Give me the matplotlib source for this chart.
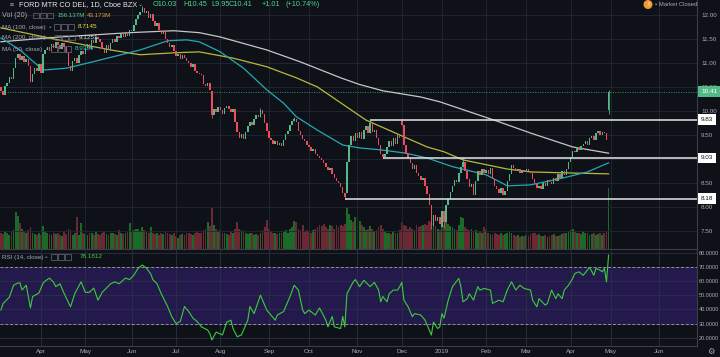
"""
FORD MTR CO DEL 日线图（TradingView 深色风格）
价格 + 成交量 + MA50/100/200 + 水平支撑阻力线，下方 RSI(14)
"""
import matplotlib
matplotlib.use('Agg')
import matplotlib.pyplot as plt
import matplotlib.transforms as mtransforms
from matplotlib.patches import Rectangle, Circle

# ---------------- 数据 ----------------
# x 轴用交易日序号，0 = 2018-03-05
month_ticks = [19, 40, 62, 83, 104, 127, 146, 169, 190, 209, 230, 249, 270, 289, 312]
month_labels = ['Apr', 'May', 'Jun', 'Jul', 'Aug', 'Sep', 'Oct', 'Nov', 'Dec',
                '2019', 'Feb', 'Mar', 'Apr', 'May', 'Jun']

closes = [
    # 2018 Mar
    10.42, 10.35, 10.52, 10.60, 10.72, 10.68, 10.90, 11.12, 11.20, 11.08,
    11.15, 11.02, 11.10, 10.95, 10.62, 10.78, 10.90, 10.85, 10.98,
    # Apr
    10.80, 11.20, 11.28, 11.35, 11.25, 11.40, 11.32, 11.44, 11.38, 11.30,
    11.42, 11.35, 11.22, 10.95, 10.85, 11.05, 11.12, 11.00, 11.18, 11.25, 11.20,
    # May
    11.32, 11.40, 11.30, 11.48, 11.42, 11.55, 11.50, 11.45, 11.30, 11.22,
    11.38, 11.28, 11.42, 11.50, 11.45, 11.58, 11.52, 11.62, 11.55, 11.66,
    11.58, 11.70,
    # Jun
    11.68, 11.80, 11.92, 12.00, 12.08, 12.15, 12.05, 12.10, 11.95, 12.02,
    11.88, 11.78, 11.85, 11.70, 11.62, 11.68, 11.50, 11.42, 11.35, 11.38, 11.25,
    # Jul
    11.15, 11.20, 11.10, 11.18, 11.12, 11.05, 11.00, 10.92, 10.98, 10.85,
    10.80, 10.78, 10.75, 10.58, 10.52, 10.60, 10.45, 9.92, 10.05, 9.98, 10.10,
    # Aug
    10.02, 9.95, 10.08, 10.12, 10.05, 9.98, 10.04, 9.78, 9.58, 9.45,
    9.52, 9.42, 9.58, 9.70, 9.78, 9.72, 9.85, 9.92, 9.88, 10.02,
    9.95, 9.75, 9.60,
    # Sep
    9.45, 9.40, 9.32, 9.38, 9.30, 9.35, 9.28, 9.40, 9.52, 9.60,
    9.72, 9.80, 9.85, 9.78, 9.60, 9.50, 9.42, 9.38, 9.30,
    # Oct
    9.25, 9.18, 9.22, 9.12, 9.08, 9.02, 8.98, 8.92, 8.85, 8.78,
    8.82, 8.70, 8.62, 8.55, 8.50, 8.42, 8.30, 8.22, 8.95, 9.30,
    9.48, 9.38, 9.55,
    # Nov
    9.45, 9.58, 9.42, 9.62, 9.70, 9.55, 9.75, 9.58, 9.62, 9.45,
    9.30, 9.12, 9.05, 9.12, 9.25, 9.38, 9.28, 9.45, 9.32, 9.50, 9.45,
    # Dec
    9.72, 9.30, 9.12, 9.02, 8.92, 8.80, 8.88, 8.72, 8.65, 8.58,
    8.62, 8.45, 8.28, 8.05, 7.62, 7.85, 7.72, 7.80, 7.65,
    # 2019 Jan
    7.92, 7.70, 8.05, 8.18, 8.32, 8.45, 8.58, 8.52, 8.72, 8.85,
    8.95, 8.75, 8.60, 8.42, 8.48, 8.25, 8.55, 8.75, 8.68, 8.80, 8.72,
    # Feb
    8.78, 8.70, 8.82, 8.60, 8.45, 8.38, 8.30, 8.40, 8.25, 8.35,
    8.55, 8.70, 8.88, 8.82, 8.75, 8.80, 8.72, 8.78, 8.74,
    # Mar
    8.80, 8.76, 8.72, 8.60, 8.48, 8.40, 8.45, 8.38, 8.50, 8.45,
    8.58, 8.52, 8.48, 8.62, 8.55, 8.70, 8.62, 8.75, 8.68, 8.80, 8.95,
    # Apr
    9.05, 9.18, 9.15, 9.25, 9.20, 9.28, 9.32, 9.38, 9.30, 9.45,
    9.48, 9.40, 9.55, 9.60, 9.50, 9.58, 9.55, 9.40, 10.41,
]

# 跳空开盘（其余开盘价 = 前一日收盘）
gap_opens = {0: 10.50, 100: 10.42, 164: 8.30, 190: 9.80, 209: 7.60, 288: 10.03}
# 明显的影线
highs = {67: 12.20, 123: 10.07, 139: 9.88, 175: 9.83, 190: 9.83, 219: 9.05, 288: 10.45}
lows = {100: 9.86, 163: 8.18, 181: 9.03, 204: 7.55, 210: 7.58, 288: 9.95}

volumes = [
    40, 38, 45, 42, 36, 44, 48, 95, 83, 67, 52, 45, 40, 48, 55, 42, 38, 35, 40,
    36, 58, 45, 40, 38, 35, 42, 38, 40, 36, 34, 45, 38, 52, 48, 36, 40, 82, 35, 67, 42,
    38, 35, 42, 40, 36, 44, 38, 35, 40, 45, 38, 36, 42, 40, 37, 35, 48, 42, 38, 40, 44, 67,
    45, 48, 52, 50, 46, 55, 48, 44, 42, 55, 40, 38, 42, 36, 40, 38, 45, 42, 38, 35, 40,
    32, 28, 35, 38, 36, 40, 42, 38, 35, 40, 45, 42, 40, 48, 52, 70, 58, 105, 62, 50, 45,
    48, 42, 40, 38, 36, 45, 42, 50, 68, 52, 48, 45, 40, 38, 42, 40, 36, 38, 35, 42, 48, 55, 75,
    52, 45, 42, 40, 38, 42, 40, 45, 48, 42, 50, 55, 72, 68, 50, 48, 60, 45, 48,
    45, 42, 48, 50, 55, 62, 58, 65, 55, 52, 60, 58, 50, 62, 55, 60, 58, 65, 108, 88, 75, 70, 82,
    80, 72, 60, 55, 48, 52, 58, 50, 45, 48, 55, 60, 52, 45, 42, 40, 38, 45, 42, 40, 48,
    70, 62, 58, 52, 55, 50, 48, 60, 55, 58, 62, 65, 60, 72, 68, 75, 58, 52, 48,
    55, 60, 72, 65, 58, 55, 52, 48, 60, 82, 78, 55, 50, 48, 52, 45, 48, 42, 45, 40, 55,
    48, 40, 38, 35, 42, 38, 36, 40, 35, 38, 42, 45, 40, 36, 32, 35, 30, 34, 32,
    35, 32, 38, 40, 42, 36, 38, 34, 32, 35, 30, 33, 36, 38, 34, 32, 35, 38, 40, 42, 45,
    48, 52, 45, 42, 40, 38, 45, 42, 40, 36, 38, 42, 35, 38, 40, 36, 42, 45, 156.137,
]

ma50_idx = [0, 9, 20, 31, 47, 66, 79, 88, 94, 104, 115, 126, 134, 140, 150,
            162, 170, 180, 192, 202, 214, 230, 240, 251, 266, 278, 288]
ma50_val = [11.53, 11.28, 10.86, 10.90, 11.07, 11.28, 11.47, 11.49, 11.45, 11.24,
            10.90, 10.45, 10.17, 9.89, 9.61, 9.30, 9.24, 9.20, 9.13, 9.03,
            8.85, 8.68, 8.45, 8.47, 8.61, 8.74, 8.93]

ma100_idx = [0, 26, 52, 66, 82, 94, 110, 126, 140, 150, 161, 173, 189, 202,
             210, 219, 240, 251, 268, 288]
ma100_val = [11.74, 11.50, 11.28, 11.18, 11.22, 11.24, 11.11, 10.93, 10.70, 10.51,
             10.18, 9.82, 9.51, 9.26, 9.16, 8.99, 8.80, 8.74, 8.72, 8.70]

ma200_idx = [0, 28, 61, 82, 94, 104, 126, 142, 161, 170, 181, 199, 208, 235,
             251, 271, 288]
ma200_val = [11.45, 11.55, 11.64, 11.68, 11.64, 11.55, 11.28, 11.03, 10.70, 10.56,
             10.43, 10.30, 10.20, 9.80, 9.55, 9.26, 9.13]

rsi_idx = [0, 1, 4, 6, 8, 9, 10, 12, 14, 15, 18, 20, 21, 23, 25, 26, 28, 30, 33, 35,
           38, 40, 42, 44, 46, 48, 52, 54, 56, 59, 61, 63, 65, 67, 69, 71, 72, 74, 76, 79,
           81, 83, 85, 87, 89, 91, 93, 95, 98, 99, 100, 102, 105, 107, 109, 110, 112, 114,
           117, 118, 120, 123, 124, 126, 128, 130, 131, 134, 137, 139, 141, 143, 144, 146,
           149, 151, 154, 155, 157, 158, 161, 162, 163, 164, 167, 168, 170, 172, 175, 177,
           179, 180, 181, 183, 184, 186, 188, 189, 190, 191, 193, 195, 196, 199, 201, 202,
           204, 205, 207, 208, 209, 210, 212, 214, 217, 218, 219, 221, 222, 224, 226, 227,
           229, 232, 233, 236, 238, 240, 242, 244, 246, 248, 251, 252, 254, 255, 258, 259,
           261, 263, 264, 266, 267, 269, 271, 272, 274, 276, 279, 281, 282, 284, 285, 286,
           287, 288]
rsi_val = [39.5, 44.0, 48.6, 57.0, 58.5, 58.7, 53.6, 57.0, 41.0, 49.0, 51.5, 58.5, 60.0,
           62.0, 59.0, 56.0, 58.0, 51.0, 41.8, 51.0, 59.4, 52.0, 52.0, 55.0, 46.5, 52.0,
           58.0, 59.4, 58.0, 62.0, 61.0, 64.0, 68.9, 71.2, 69.0, 65.0, 61.0, 58.0, 51.0,
           42.0, 34.8, 30.0, 31.5, 42.0, 38.5, 33.8, 31.5, 27.7, 25.4, 23.0, 18.4, 24.0,
           22.0, 31.0, 32.4, 26.5, 20.7, 22.0, 32.4, 42.0, 37.0, 50.0, 46.5, 39.5, 36.0,
           32.4, 36.0, 38.5, 49.0, 57.0, 53.5, 39.5, 37.0, 39.5, 36.0, 41.0, 32.4, 27.7,
           35.0, 27.7, 26.5, 35.0, 27.7, 51.0, 59.4, 61.0, 56.0, 60.5, 56.0, 59.0, 53.6,
           45.3, 49.0, 45.3, 51.0, 53.6, 53.6, 56.0, 59.0, 46.5, 41.8, 34.8, 37.0, 36.0,
           32.4, 29.0, 21.9, 31.0, 26.5, 27.7, 37.0, 33.8, 46.5, 56.0, 61.8, 56.0, 45.3,
           47.5, 51.0, 46.5, 56.0, 53.6, 54.7, 53.6, 44.2, 46.5, 45.3, 53.6, 59.4, 53.6,
           57.0, 54.7, 53.6, 46.5, 41.8, 47.5, 43.0, 44.2, 53.6, 47.5, 51.0, 47.5, 53.6,
           57.0, 61.8, 65.3, 66.4, 64.0, 69.6, 64.0, 68.8, 67.6, 66.4, 68.8, 59.4, 78.2]

# 水平线：价格与起点
levels = [9.83, 9.03, 8.18]
level_start = [175, 181, 163]
last_price = 10.41

price_ticks = [7.5, 8.0, 8.5, 9.0, 9.5, 10.0, 10.5, 11.0, 11.5, 12.0]
rsi_ticks = [20, 30, 40, 50, 60, 70, 80]

# ---------------- 样式 ----------------
BG = '#0f1118'
GRID = '#242833'
TXT = '#a9acb5'
UP, DOWN = '#53b987', '#eb4d5c'
VOL_UP, VOL_DOWN = '#1b6a28', '#6a2933'
MA50_C, MA100_C, MA200_C = '#25a8b4', '#b9b83a', '#c6c6c6'
RSI_C, RSI_BG = '#3ccc3c', '#23194d'
VAL_GREEN = '#4fd18b'

W, H = 720, 357


def fx(px):
    return px / W


def fy(py):
    return 1 - py / H


def main():
    plt.rcParams['font.family'] = ['Liberation Sans', 'DejaVu Sans']

    fig = plt.figure(figsize=(7.2, 3.57), dpi=100)
    fig.patch.set_facecolor(BG)

    ax = fig.add_axes([0, fy(249), fx(697), 249 / H])
    ax_r = fig.add_axes([0, fy(346), fx(697), 96 / H], sharex=ax)
    axv = ax.twinx()

    n = len(closes)
    x = list(range(n))
    opens = [gap_opens.get(i, closes[i - 1] if i > 0 else closes[0]) for i in x]
    up = [c >= o for o, c in zip(opens, closes)]

    # 成交量（放在价格层下面）
    axv.set_zorder(0)
    ax.set_zorder(1)
    ax.patch.set_visible(False)
    axv.patch.set_facecolor(BG)
    axv.bar(x, volumes, width=0.85, color=[VOL_UP if u else VOL_DOWN for u in up], lw=0)
    axv.set_ylim(0, 635)
    axv.set_yticks([])
    for s in axv.spines.values():
        s.set_visible(False)

    # K 线
    bottoms = [min(o, c) for o, c in zip(opens, closes)]
    heights = [max(abs(c - o), 0.012) for o, c in zip(opens, closes)]
    cols = [UP if u else DOWN for u in up]
    ax.bar(x, heights, bottom=bottoms, width=0.7, color=cols, lw=0, zorder=4)
    wx, wlo, whi, wc = [], [], [], []
    for i in x:
        if i in highs or i in lows:
            wx.append(i)
            wlo.append(lows.get(i, bottoms[i]))
            whi.append(highs.get(i, bottoms[i] + heights[i]))
            wc.append(cols[i])
    ax.vlines(wx, wlo, whi, colors=wc, lw=0.6, zorder=4)

    # 均线
    ax.plot(ma200_idx, ma200_val, color=MA200_C, lw=0.9, zorder=3)
    ax.plot(ma100_idx, ma100_val, color=MA100_C, lw=0.9, zorder=3)
    ax.plot(ma50_idx, ma50_val, color=MA50_C, lw=0.9, zorder=3)

    xmin, xmax = -0.43, 329.9
    ax.set_xlim(xmin, xmax)
    ax.set_ylim(7.135, 12.32)

    # 当前价虚线 + 水平线
    ax.axhline(last_price, color='#3d8f68', ls=(0, (1, 1.5)), lw=0.7, zorder=2)
    for lv, st in zip(levels, level_start):
        ax.hlines(lv, st, xmax, color='#e6e6e6', lw=1.1, zorder=5)

    ytrans = mtransforms.blended_transform_factory(ax.transAxes, ax.transData)
    for lv in levels:
        ax.text(1 + 4 / 697, lv, f'{lv:.2f}', transform=ytrans, fontsize=4.6, color='#111111',
                va='center', ha='left', clip_on=False, zorder=10,
                bbox=dict(boxstyle='square,pad=0.45', fc='white', ec='none'))
    ax.text(1 + 4 / 697, last_price, f'{last_price:.2f}', transform=ytrans, fontsize=4.6,
            color='white', va='center', ha='left', clip_on=False, zorder=10,
            bbox=dict(boxstyle='square,pad=0.45', fc=UP, ec='none'))

    ax.yaxis.tick_right()
    ax.set_yticks(price_ticks)
    ax.set_yticklabels([f'{p:.2f}' for p in price_ticks])
    ax.tick_params(axis='y', length=0, labelsize=4.5, colors=TXT, pad=3)
    ax.tick_params(axis='x', length=0, labelbottom=False)
    ax.set_xticks(month_ticks)
    ax.grid(True, color=GRID, lw=0.6)
    ax.set_axisbelow(True)

    # RSI
    ax_r.set_facecolor(BG)
    ax_r.axhspan(30, 70, color=RSI_BG, zorder=0, lw=0)
    ax_r.set_ylim(14.2, 81.8)
    ax_r.set_yticks(rsi_ticks)
    ax_r.set_yticklabels([f'{v:.4f}' for v in rsi_ticks])
    ax_r.yaxis.tick_right()
    ax_r.grid(True, color='#2c2f45', lw=0.6)
    ax_r.set_axisbelow(True)
    for lv in (30, 70):
        ax_r.axhline(lv, color='#8f93a0', ls=(0, (3, 2)), lw=0.7, zorder=1)
    ax_r.plot(rsi_idx, rsi_val, color=RSI_C, lw=0.8, zorder=3)
    ax_r.set_xticks(month_ticks)
    ax_r.set_xticklabels(month_labels)
    ax_r.tick_params(axis='x', length=0, labelsize=4.6, colors=TXT, pad=2)
    ax_r.tick_params(axis='y', length=0, labelsize=4.0, colors=TXT, pad=1)

    for a in (ax, ax_r):
        for side, s in a.spines.items():
            s.set_color('#3a3e4a')
            s.set_linewidth(0.8)
            s.set_visible(side in ('right', 'bottom'))

    # ---------------- 图例文字 ----------------
    def put(px, py, s, color=TXT, size=4.6, **kw):
        fig.text(fx(px), fy(py), s, color=color, fontsize=size, va='center', ha='left', **kw)

    def icons(px, py):
        for k in range(3):
            fig.patches.append(Rectangle(((px + k * 7) / 100, (H - py - 2.8) / 100), 0.056, 0.056,
                                         transform=fig.dpi_scale_trans, fill=False,
                                         ec='#6b6f7a', lw=0.5))

    put(10, 5, '≡', size=5)
    put(19, 5, 'FORD MTR CO DEL, 1D, Cboe BZX', color='#e6e7ea', size=5.2)
    put(138, 4, '⌄', size=4.5)
    for px, s in [(153, 'O10.03'), (183, 'H10.45'), (211, 'L9.95'), (229, 'C10.41'),
                  (262, '+1.01'), (285, '(+10.74%)')]:
        put(px, 5, s, color=VAL_GREEN, size=5.3)

    put(2, 15.5, 'Vol (20)', size=5.2)
    icons(33, 15.5)
    put(58, 15.5, '156.137M', color=VAL_GREEN, size=4.4)
    put(87, 15.5, '43.173M', color='#e59a3c', size=4.4)

    put(2, 27, 'MA (100, close)', size=4.5)
    put(48, 26, '⌄', size=4)
    icons(54, 27)
    put(78, 27, '8.7145', color='#e8e63c')

    put(2, 37.5, 'MA (200, close)', size=4.5)
    put(48, 36.5, '⌄', size=4)
    icons(55, 37.5)
    put(79, 37.5, '9.1251', color='#d8d8d8')

    put(2, 49, 'MA (50, close)', size=4.5)
    put(45, 48, '⌄', size=4)
    icons(51, 49)
    put(75, 49, '8.9329', color='#2ec6d3')

    put(2, 257, 'RSI (14, close)', size=4.5)
    put(44, 256, '⌄', size=4)
    icons(51, 257)
    put(80, 257, '78.1812', color=RSI_C)

    # 右上角 Market Closed
    fig.patches.append(Circle((648 / 100, (H - 4.5) / 100), 0.038,
                              transform=fig.dpi_scale_trans, color='#f39a34'))
    fig.text(fx(648), fy(4.5), '!', color='white', fontsize=4.5, ha='center', va='center',
             fontweight='bold')
    put(655, 4.5, '• Market Closed', size=4.3)

    fig.text(fx(711), fy(351), '⚙', color=TXT, fontsize=6, ha='center', va='center',
             family='DejaVu Sans')

    fig.savefig('out.png', dpi=100, facecolor=BG)
    plt.close(fig)


if __name__ == '__main__':
    main()
